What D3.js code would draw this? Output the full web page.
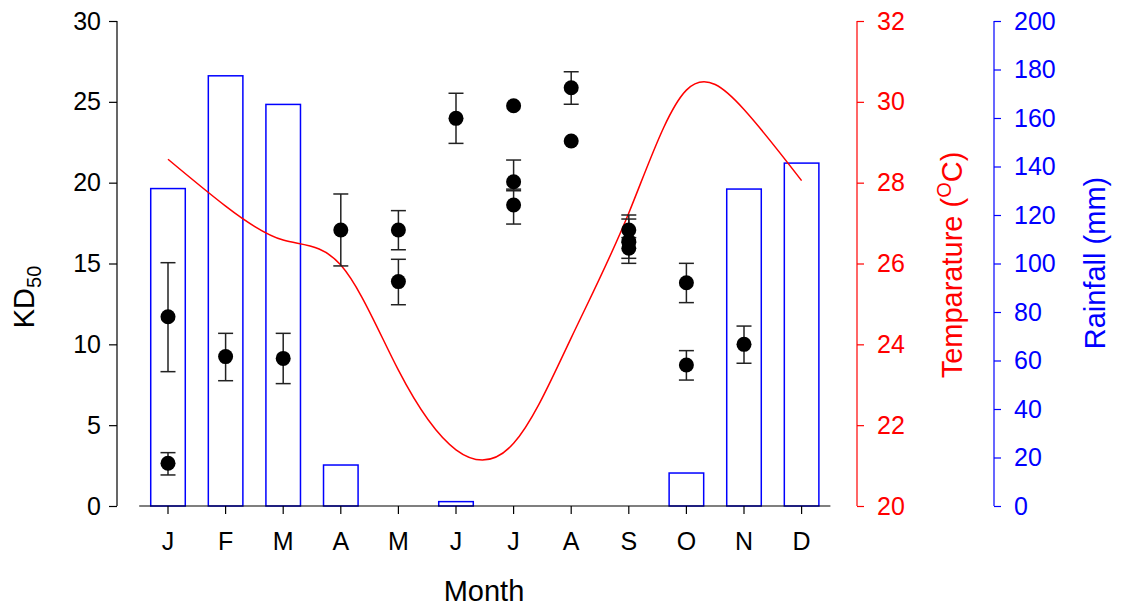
<!DOCTYPE html>
<html>
<head>
<meta charset="utf-8">
<script src="https://cdn.jsdelivr.net/npm/d3@7"></script>
<style>
body { margin: 0; background: #fff; }
text { font-family: "Liberation Sans", Arial, sans-serif; }
</style>
</head>
<body>
<svg id="chart" width="1121" height="608"></svg>
<script>
// ---- data ----
const monthLabels = ["J","F","M","A","M","J","J","A","S","O","N","D"];
const rainfall = [130.9, 177.4, 165.6, 16.9, 0, 1.8, 0, 0, 0, 13.6, 130.7, 141.4];
const temperature = [28.58, 27.42, 26.58, 25.96, 23.36, 21.39, 21.55, 24.16, 27.25, 30.29, 29.81, 28.05];
const kdMonth = [0, 0, 1, 2, 3, 4, 4, 5, 6, 6, 6, 7, 7, 8, 8, 8, 9, 9, 10];
const kdMean  = [11.71, 2.64, 9.24, 9.13, 17.07, 17.07, 13.88, 23.98, 24.76, 20.06, 18.62, 25.87, 22.58, 17.07, 16.35, 15.94, 13.81, 8.72, 10.0];
const kdLow   = [8.31, 1.92, 7.75, 7.57, 14.85, 15.85, 12.45, 22.43, null, 19.5, 17.44, 24.85, null, 16.3, 15.32, 15.01, 12.58, 7.79, 8.83];
const kdHigh  = [15.05, 3.30, 10.68, 10.68, 19.30, 18.27, 15.26, 25.53, null, 21.4, 19.6, 26.86, null, 18.0, 17.75, 16.6, 15.01, 9.61, 11.13];
const kdTicks = [0, 5, 10, 15, 20, 25, 30];
const tempTicks = [20, 22, 24, 26, 28, 30, 32];
const rainTicks = [0, 20, 40, 60, 80, 100, 120, 140, 160, 180, 200];

// ---- layout ----
const svg = d3.select("#chart");
const yTop = 21, yBot = 506;
const x = d3.scaleBand().domain(d3.range(12)).range([139.2, 830.4]).paddingInner(0.4).paddingOuter(0.2);
const xc = i => x(i) + x.bandwidth() / 2;
const yKD = d3.scaleLinear().domain([0, 30]).range([yBot, yTop]);
const yT = d3.scaleLinear().domain([20, 32]).range([yBot, yTop]);
const yR = d3.scaleLinear().domain([0, 200]).range([yBot, yTop]);

const tickFont = 25;

// bars (rainfall)
svg.append("g").selectAll("rect")
  .data(rainfall.map((v, i) => ({v, i})).filter(d => d.v > 0))
  .join("rect")
  .attr("x", d => x(d.i))
  .attr("y", d => yR(d.v))
  .attr("width", x.bandwidth())
  .attr("height", d => yBot - yR(d.v))
  .attr("fill", "none")
  .attr("stroke", "#0000ff")
  .attr("stroke-width", 1.5);

// temperature line
const line = d3.line().x((d, i) => xc(i)).y(d => yT(d)).curve(d3.curveNatural);
svg.append("path")
  .attr("d", line(temperature))
  .attr("fill", "none")
  .attr("stroke", "#ff0000")
  .attr("stroke-width", 1.5);

// error bars
const pts = kdMean.map((m, k) => ({m, i: kdMonth[k], lo: kdLow[k], hi: kdHigh[k]}));
const eg = svg.append("g").attr("stroke", "#222").attr("stroke-width", 1.5);
pts.filter(d => d.lo !== null).forEach(d => {
  const cx = xc(d.i);
  eg.append("line").attr("x1", cx).attr("x2", cx).attr("y1", yKD(d.lo)).attr("y2", yKD(d.hi));
  eg.append("line").attr("x1", cx - 7.5).attr("x2", cx + 7.5).attr("y1", yKD(d.lo)).attr("y2", yKD(d.lo));
  eg.append("line").attr("x1", cx - 7.5).attr("x2", cx + 7.5).attr("y1", yKD(d.hi)).attr("y2", yKD(d.hi));
});

// points
svg.append("g").selectAll("circle").data(pts).join("circle")
  .attr("cx", d => xc(d.i)).attr("cy", d => yKD(d.m)).attr("r", 7.5).attr("fill", "#000");

// left axis
const gL = svg.append("g").attr("transform", "translate(117,0)")
  .call(d3.axisLeft(yKD).tickValues(kdTicks).tickSize(8).tickPadding(8));
gL.selectAll("path, line").attr("stroke", "#000").attr("stroke-width", 1.2);
gL.select(".domain").attr("d", `M0,${yBot}V${yTop}`);
gL.selectAll("text").attr("font-size", tickFont).attr("fill", "#000").attr("font-family", "Liberation Sans, Arial, sans-serif");

// bottom axis
const gB = svg.append("g").attr("transform", `translate(0,${yBot})`)
  .call(d3.axisBottom(x).tickFormat(i => monthLabels[i]).tickSize(8).tickPadding(18));
gB.selectAll("path, line").attr("stroke", "#000").attr("stroke-width", 1.2);
gB.select(".domain").attr("d", "M139.2,0H830.4");
gB.selectAll("text").attr("font-size", tickFont).attr("fill", "#000").attr("font-family", "Liberation Sans, Arial, sans-serif");

// temperature axis
const gT = svg.append("g").attr("transform", "translate(857,0)")
  .call(d3.axisRight(yT).tickValues(tempTicks).tickSize(7).tickPadding(13));
gT.selectAll("path, line").attr("stroke", "#ff0000").attr("stroke-width", 1.2);
gT.select(".domain").attr("d", `M0,${yBot}V${yTop}`);
gT.selectAll("text").attr("font-size", tickFont).attr("fill", "#ff0000").attr("font-family", "Liberation Sans, Arial, sans-serif");

// rainfall axis
const gR = svg.append("g").attr("transform", "translate(994,0)")
  .call(d3.axisRight(yR).tickValues(rainTicks).tickSize(7).tickPadding(13));
gR.selectAll("path, line").attr("stroke", "#0000ff").attr("stroke-width", 1.2);
gR.select(".domain").attr("d", `M0,${yBot}V${yTop}`);
gR.selectAll("text").attr("font-size", tickFont).attr("fill", "#0000ff").attr("font-family", "Liberation Sans, Arial, sans-serif");

// titles
const kd = svg.append("text").attr("transform", "translate(34,297) rotate(-90)")
  .attr("text-anchor", "middle").attr("font-size", 29).attr("fill", "#000");
kd.append("tspan").text("KD");
kd.append("tspan").text("50").attr("font-size", 20).attr("dy", 7);

svg.append("text").attr("x", 484).attr("y", 601).attr("text-anchor", "middle")
  .attr("font-size", 29).attr("fill", "#000").text("Month");

const tt = svg.append("text").attr("transform", "translate(962,265) rotate(-90)")
  .attr("text-anchor", "middle").attr("font-size", 29).attr("fill", "#ff0000");
tt.append("tspan").text("Temparature (");
tt.append("tspan").text("O").attr("font-size", 20).attr("dy", -11);
tt.append("tspan").text("C)").attr("dy", 11);

svg.append("text").attr("transform", "translate(1105,263) rotate(-90)")
  .attr("text-anchor", "middle").attr("font-size", 29).attr("fill", "#0000ff").text("Rainfall (mm)");
</script>
</body>
</html>
